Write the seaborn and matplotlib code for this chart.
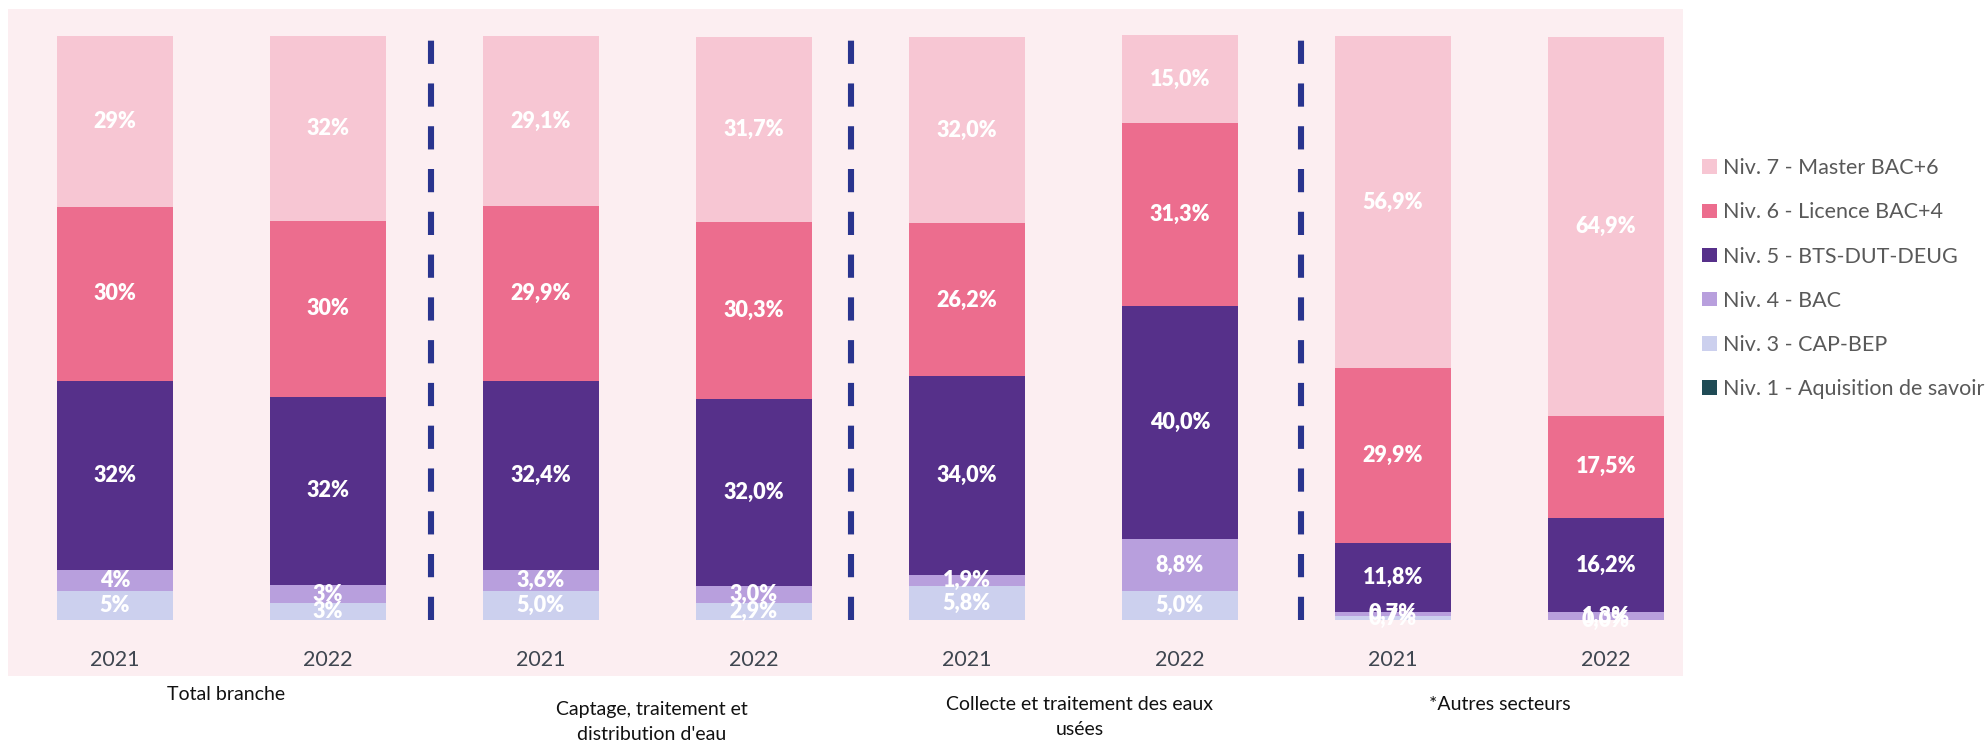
import numpy as np
import pandas as pd
import seaborn as sns
import matplotlib

matplotlib.use('Agg')
import matplotlib.pyplot as plt
from matplotlib.patches import Patch

sns.set_theme(style="white")
plt.rcParams['font.family'] = ['Lato', 'DejaVu Sans']

# Données : parts par niveau de diplôme (%)
annees = ['2021', '2022', '2021', '2022', '2021', '2022', '2021', '2022']
groupes = ['Total branche', 'Captage, traitement et\ndistribution d\'eau',
           'Collecte et traitement des eaux\nusées', '*Autres secteurs']

niv1 = [0.0, 0.0, 0.0, 0.0, 0.0, 0.0, 0.0, 0.0]
niv3 = [5.0, 2.9, 5.0, 2.9, 5.8, 5.0, 0.7, 0.0]
niv4 = [3.6, 3.1, 3.6, 3.0, 1.9, 8.8, 0.7, 1.3]
niv5 = [32.3, 32.2, 32.4, 32.0, 34.0, 40.0, 11.8, 16.2]
niv6 = [29.9, 30.2, 29.9, 30.3, 26.2, 31.3, 29.9, 17.5]
niv7 = [29.2, 31.6, 29.1, 31.7, 32.0, 15.0, 56.9, 64.9]

niveaux = ['Niv. 1 - Aquisition de savoir', 'Niv. 3 - CAP-BEP', 'Niv. 4 - BAC',
           'Niv. 5 - BTS-DUT-DEUG', 'Niv. 6 - Licence BAC+4', 'Niv. 7 - Master BAC+6']
couleurs = ['#1F4B55', '#CCD0EE', '#B89FDD', '#56308A', '#EC6D8E', '#F7C6D3']

df = pd.DataFrame(dict(zip(niveaux, [niv1, niv3, niv4, niv5, niv6, niv7])))

W, H = 1988, 749
fig = plt.figure(figsize=(W / 100, H / 100), dpi=100)
ax = fig.add_axes([8 / W, (H - 676) / H, 1675 / W, 667 / H])
ax.set_facecolor('#FCEEF1')

x = np.arange(len(annees))
bas = np.zeros(len(annees))
for niveau, couleur in zip(niveaux, couleurs):
    vals = df[niveau].values
    ax.bar(x, vals, bottom=bas, width=0.545, color=couleur, edgecolor='none')
    if niveau != niveaux[0]:
        for i, (v, b) in enumerate(zip(vals, bas)):
            fmt = '{:.0f}%' if i < 2 else '{:.1f}%'
            ax.text(i, b + v / 2, fmt.format(v).replace('.', ','),
                    ha='center', va='center', color='white',
                    fontsize=15.5, fontweight='heavy')
    bas += vals

# Séparateurs entre secteurs
for xs in [1.484, 3.455, 5.568]:
    ax.plot([xs, xs], [0, 100], color='#29348E', linewidth=4.4,
            linestyle=(0, (3.8, 3.2)), solid_capstyle='butt', dash_capstyle='butt')

for i, a in enumerate(annees):
    ax.text(i, -6.8, a, ha='center', va='center', fontsize=15.5, color='#3F4650')

ax.set_xlim(-0.502, 7.362)
ax.set_ylim(-9.59, 104.62)
ax.set_xticks([])
ax.set_yticks([])
for s in ax.spines.values():
    s.set_visible(False)

# Étiquettes des secteurs
pos_groupes = [(226, 695), (652, 722), (1080, 717), (1500, 705)]
for texte, (px, py) in zip(groupes, pos_groupes):
    fig.text(px / W, 1 - py / H, texte, ha='center', va='center',
             fontsize=14, color='#111111', linespacing=1.55)

handles = [Patch(facecolor=c, edgecolor='none') for c in couleurs[::-1]]
fig.legend(handles, niveaux[::-1], loc='upper left',
           bbox_to_anchor=(1683 / W, 1 - 139 / H), frameon=False,
           fontsize=15.5, labelcolor='#595959', handlelength=0.67,
           handleheight=0.67, handletextpad=0.3, labelspacing=1.12)

plt.savefig('out.png', dpi=100)
